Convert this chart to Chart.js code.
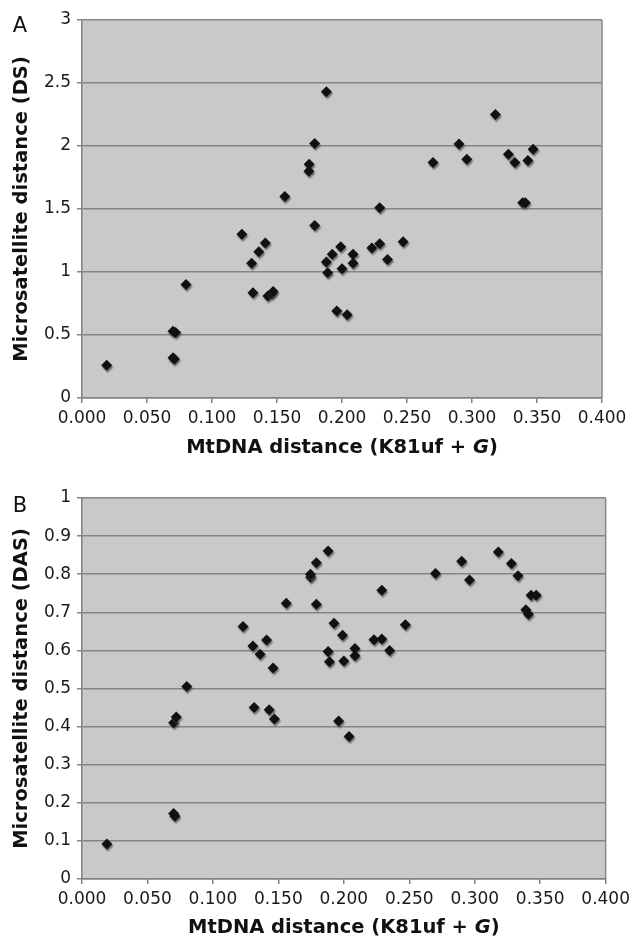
<!DOCTYPE html>
<html>
<head>
<meta charset="utf-8">
<script src="https://cdn.jsdelivr.net/npm/chart.js@4.4.1/dist/chart.umd.min.js"></script>
<style>
  html, body { margin: 0; padding: 0; background: #fff; }
  #wrapA { position: absolute; left: 0; top: 0; width: 635px; height: 470px; }
  #wrapB { position: absolute; left: 0; top: 470px; width: 635px; height: 471px; }
</style>
</head>
<body>
<div id="wrapA"><canvas id="chartA" width="635" height="470"></canvas></div>
<div id="wrapB"><canvas id="chartB" width="635" height="471"></canvas></div>
<script>
// MtDNA distance (K81uf + G) for each population pair, shared by both panels
const mtdnaDistance = [
  0.019, 0.070, 0.072, 0.070, 0.071, 0.080, 0.123, 0.1305, 0.136, 0.141,
  0.1315, 0.143, 0.146, 0.147, 0.156, 0.1747, 0.1745, 0.179, 0.179, 0.188,
  0.188, 0.1925, 0.199, 0.189, 0.200, 0.2085, 0.2085, 0.196, 0.204, 0.223,
  0.229, 0.229, 0.235, 0.247, 0.270, 0.290, 0.296, 0.318, 0.328, 0.333,
  0.339, 0.341, 0.343, 0.347
];
// panel A: microsatellite distance DS
const dsDistance = [
  0.26, 0.53, 0.52, 0.32, 0.31, 0.90, 1.30, 1.07, 1.16, 1.23,
  0.835, 0.81, 0.83, 0.845, 1.60, 1.855, 1.80, 2.02, 1.37, 2.43,
  1.08, 1.14, 1.20, 0.995, 1.025, 1.14, 1.07, 0.69, 0.66, 1.19,
  1.225, 1.51, 1.10, 1.24, 1.87, 2.015, 1.895, 2.25, 1.935, 1.87,
  1.55, 1.55, 1.885, 1.975
];
// panel B: microsatellite distance DAS
const dasDistance = [
  0.092, 0.41, 0.425, 0.172, 0.165, 0.505, 0.663, 0.6115, 0.59, 0.627,
  0.45, 0.444, 0.554, 0.42, 0.724, 0.792, 0.80, 0.83, 0.721, 0.861,
  0.597, 0.671, 0.64, 0.57, 0.572, 0.605, 0.586, 0.415, 0.374, 0.628,
  0.63, 0.758, 0.60, 0.667, 0.802, 0.834, 0.785, 0.858, 0.828, 0.796,
  0.707, 0.695, 0.745, 0.745
];

const xTickLabels = ['0.000', '0.050', '0.100', '0.150', '0.200', '0.250', '0.300', '0.350', '0.400'];
const yTickLabelsA = ['0', '0.5', '1', '1.5', '2', '2.5', '3'];
const yTickLabelsB = ['0', '0.1', '0.2', '0.3', '0.4', '0.5', '0.6', '0.7', '0.8', '0.9', '1'];
const xTitleParts = [
  { text: 'MtDNA distance (K81uf + ', italic: false },
  { text: 'G', italic: true },
  { text: ')', italic: false }
];

const FONT = '"DejaVu Sans", Verdana, sans-serif';
const TITLE_SIZE = 19.5;

function toPoints(ys) {
  return mtdnaDistance.map((x, i) => ({ x: x, y: ys[i] }));
}

const panelPlugin = {
  id: 'panel',
  beforeDraw(chart) {
    const { ctx, chartArea: a } = chart;
    ctx.save();
    ctx.fillStyle = '#fff';
    ctx.fillRect(0, 0, chart.width, chart.height);
    ctx.fillStyle = '#c9c9c9';
    ctx.fillRect(a.left, a.top, a.right - a.left, a.bottom - a.top);
    ctx.restore();
  },
  beforeDatasetsDraw(chart) {
    const ctx = chart.ctx;
    ctx.save();
    ctx.shadowColor = 'rgba(70,70,70,0.7)';
    ctx.shadowOffsetX = 1;
    ctx.shadowOffsetY = 2;
    ctx.shadowBlur = 1.5;
  },
  afterDatasetsDraw(chart) {
    chart.ctx.restore();
  },
  afterDraw(chart, args, opts) {
    const { ctx, chartArea: a } = chart;
    ctx.save();
    // right edge of the plot frame
    ctx.strokeStyle = '#8a8a8a';
    ctx.lineWidth = 1.5;
    ctx.beginPath();
    ctx.moveTo(a.right, a.top);
    ctx.lineTo(a.right, a.bottom);
    ctx.stroke();

    // panel letter
    ctx.fillStyle = '#111';
    ctx.font = '21px ' + FONT;
    ctx.textAlign = 'center';
    ctx.textBaseline = 'alphabetic';
    ctx.fillText(opts.letter, 20, opts.letterY);

    // x axis title with italic G
    const fonts = xTitleParts.map(p => (p.italic ? 'italic ' : '') + 'bold ' + TITLE_SIZE + 'px ' + FONT);
    let total = 0;
    const widths = xTitleParts.map((p, i) => {
      ctx.font = fonts[i];
      const w = ctx.measureText(p.text).width;
      total += w;
      return w;
    });
    let x = (a.left + a.right) / 2 - total / 2;
    ctx.textAlign = 'left';
    ctx.textBaseline = 'middle';
    xTitleParts.forEach((p, i) => {
      ctx.font = fonts[i];
      ctx.fillText(p.text, x, opts.titleY);
      x += widths[i];
    });
    ctx.restore();
  }
};

function makeChart(id, ys, yMax, yStep, yLabels, yTitle, pad, xHeight, letter, letterY, titleY) {
  return new Chart(document.getElementById(id), {
    type: 'scatter',
    data: {
      datasets: [{
        data: toPoints(ys),
        pointStyle: 'rectRot',
        pointRadius: 5.5,
        pointHoverRadius: 5.5,
        pointBackgroundColor: '#111',
        pointBorderWidth: 0,
        showLine: false
      }]
    },
    options: {
      responsive: false,
      animation: false,
      devicePixelRatio: 1,
      layout: { padding: pad },
      plugins: {
        legend: { display: false },
        tooltip: { enabled: false },
        panel: { letter: letter, letterY: letterY, titleY: titleY }
      },
      scales: {
        x: {
          type: 'linear',
          min: 0,
          max: 0.4,
          afterFit: s => { s.height = xHeight; },
          afterBuildTicks: s => {
            s.ticks = xTickLabels.map((t, i) => ({ value: i * 0.05 }));
          },
          ticks: {
            autoSkip: false,
            maxRotation: 0,
            padding: 5,
            color: '#1a1a1a',
            font: { family: FONT, size: 17 },
            callback: (v, i) => xTickLabels[i]
          },
          grid: { drawOnChartArea: false, drawTicks: true, tickLength: 5, color: '#808080', lineWidth: 1.5 },
          border: { display: true, color: '#808080', width: 1.5 }
        },
        y: {
          type: 'linear',
          min: 0,
          max: yMax,
          afterFit: s => { s.width = 82; },
          afterBuildTicks: s => {
            s.ticks = yLabels.map((t, i) => ({ value: i * yStep }));
          },
          ticks: {
            autoSkip: false,
            padding: 6,
            color: '#1a1a1a',
            font: { family: FONT, size: 17 },
            callback: (v, i) => yLabels[i]
          },
          grid: { drawOnChartArea: true, drawTicks: true, tickLength: 5, color: '#858585', lineWidth: 1.5 },
          border: { display: true, color: '#808080', width: 1.5 },
          title: {
            display: true,
            text: yTitle,
            color: '#111',
            padding: { top: 10, bottom: 0 },
            font: { family: FONT, size: TITLE_SIZE, weight: 'bold' }
          }
        }
      }
    },
    plugins: [panelPlugin]
  });
}

makeChart('chartA', dsDistance, 3, 0.5, yTickLabelsA, 'Microsatellite distance (DS)',
  { top: 20, right: 33, left: 0, bottom: 0 }, 72, 'A', 32, 448);
makeChart('chartB', dasDistance, 1, 0.1, yTickLabelsB, 'Microsatellite distance (DAS)',
  { top: 28, right: 27, left: 0, bottom: 0 }, 62, 'B', 42, 458);
</script>
</body>
</html>
